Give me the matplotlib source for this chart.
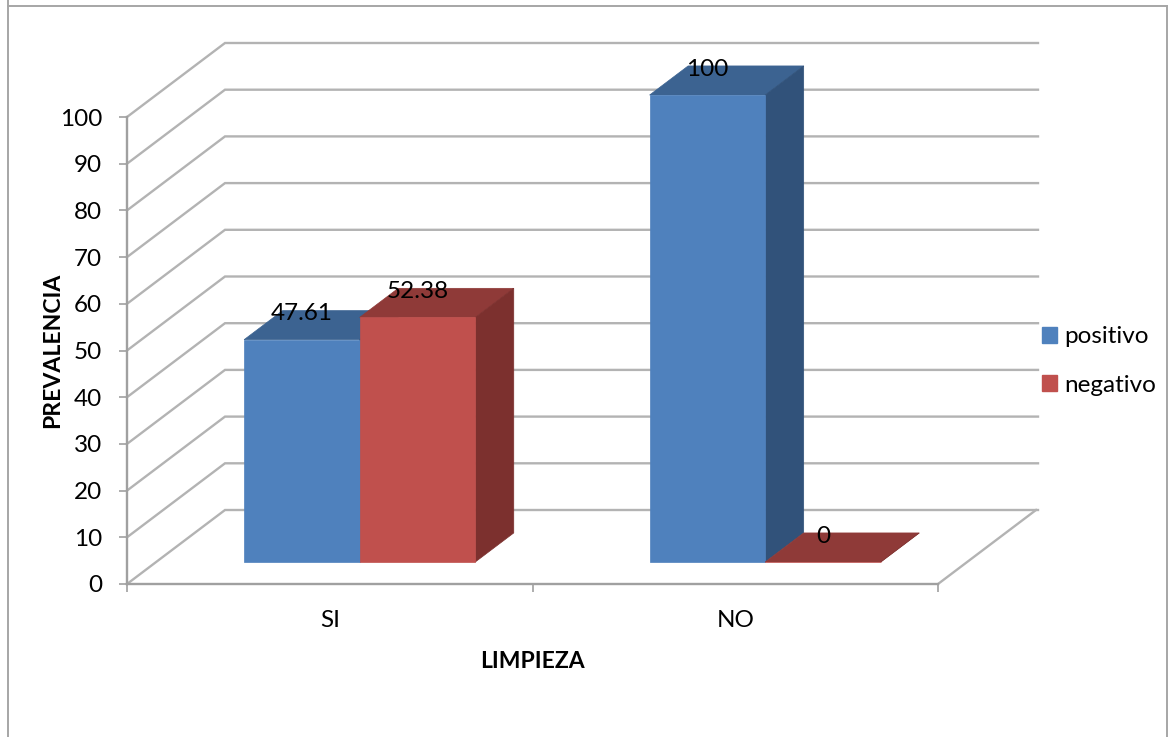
import matplotlib
matplotlib.use('Agg')
import matplotlib.pyplot as plt
from matplotlib.lines import Line2D
from matplotlib.patches import Patch

plt.rcParams['font.family'] = ['Lato', 'DejaVu Sans']

categories = ['SI', 'NO']
positivo = [47.61, 100]
negativo = [52.38, 0]
y_ticks = [0, 10, 20, 30, 40, 50, 60, 70, 80, 90, 100]

W, H = 1170, 737
GRID = '#b3b3b3'
AXIS = '#a0a0a0'
# oblique projection: how far the back wall sits from the front plane, in data units
DEPTH_X = 98 / 405.5
DEPTH_Y = 74 / 4.67
WALL_END = 2 + 100 / 405.5
BAR_W = 0.285
BAR_D0, BAR_D1 = 0.297, 0.69
SHADES = {'positivo': ('#4f81bd', '#3c6391', '#31527a'),
          'negativo': ('#c0504d', '#8f3a38', '#7c302e')}

fig = plt.figure(figsize=(W / 100, H / 100), dpi=100)
ax = fig.add_axes([127 / W, 1 - 584 / H, (938 - 127) / W, (584 - 117) / H])
ax.set_xlim(0, 2)
ax.set_ylim(0, 100)
ax.patch.set_alpha(0)

# chart frame, open at the bottom edge
for xs, ys in [([8, 8], [0, 737]), ([8, 1167], [6, 6]), ([1167, 1167], [6, 737])]:
    fig.add_artist(Line2D([x / W for x in xs], [1 - y / H for y in ys],
                          color='#a6a6a6', lw=1.4))

# side wall and back wall lines
for v in y_ticks:
    ax.plot([0, DEPTH_X, WALL_END], [v, v + DEPTH_Y, v + DEPTH_Y],
            color=GRID, lw=1.7, clip_on=False, zorder=1, solid_joinstyle='miter')
# right edge of the floor
ax.plot([2, 2 + DEPTH_X], [0, DEPTH_Y], color=GRID, lw=1.7, clip_on=False, zorder=1)


def draw_bar(x, value, name):
    front, top, side = SHADES[name]
    base = BAR_D0 * DEPTH_Y
    x0 = x + BAR_D0 * DEPTH_X
    dx = (BAR_D1 - BAR_D0) * DEPTH_X
    dy = (BAR_D1 - BAR_D0) * DEPTH_Y
    y1 = base + value
    ax.fill([x0, x0 + BAR_W, x0 + BAR_W + dx, x0 + dx], [y1, y1, y1 + dy, y1 + dy],
            fc=top, ec=top, lw=0.5, clip_on=False, zorder=3)
    ax.fill([x0 + BAR_W, x0 + BAR_W + dx, x0 + BAR_W + dx, x0 + BAR_W],
            [base, base + dy, y1 + dy, y1], fc=side, ec=side, lw=0.5, clip_on=False, zorder=3)
    ax.bar(x0, value, BAR_W, bottom=base, align='edge', color=front, edgecolor=front, lw=0.5,
           clip_on=False, zorder=3)
    ax.annotate(f'{value:g}', (x0 + BAR_W / 2, y1), xytext=(0, 18.5), textcoords='offset points',
                ha='center', va='center', fontsize=17.5, color='black', zorder=5, annotation_clip=False)


for i in range(len(categories)):
    draw_bar(i + 0.5 - BAR_W + 0.002, positivo[i], 'positivo')
    draw_bar(i + 0.5 + 0.002, negativo[i], 'negativo')

for s in ['top', 'right']:
    ax.spines[s].set_visible(False)
for s in ['left', 'bottom']:
    ax.spines[s].set_color(AXIS)
    ax.spines[s].set_linewidth(1.7)

ax.set_yticks(y_ticks)
ax.set_xticks([0, 1, 2])
ax.set_xticklabels([])
ax.set_xticks([0.5, 1.5], minor=True)
ax.set_xticklabels(categories, minor=True)
ax.tick_params(axis='both', which='major', length=6, width=1.2, color=AXIS, labelsize=17.5, pad=12)
ax.tick_params(axis='x', which='minor', length=0, labelsize=17.5, pad=18.5)

fig.text(53 / W, 1 - 350 / H, 'PREVALENCIA', rotation=90, ha='center', va='center',
         fontsize=16.6, fontweight='bold')
fig.text(532 / W, 1 - 661 / H, 'LIMPIEZA', ha='center', va='center',
         fontsize=16.5, fontweight='bold')

handles = [Patch(color=SHADES['positivo'][0], label='positivo'),
           Patch(color=SHADES['negativo'][0], label='negativo')]
fig.legend(handles=handles, loc='center left', bbox_to_anchor=(1035 / W, 1 - 361 / H),
           frameon=False, fontsize=17.5, handlelength=0.62, handleheight=0.62,
           handletextpad=0.3, labelspacing=1.12, borderpad=0.3, borderaxespad=0)

fig.savefig('out.png', dpi=100)
